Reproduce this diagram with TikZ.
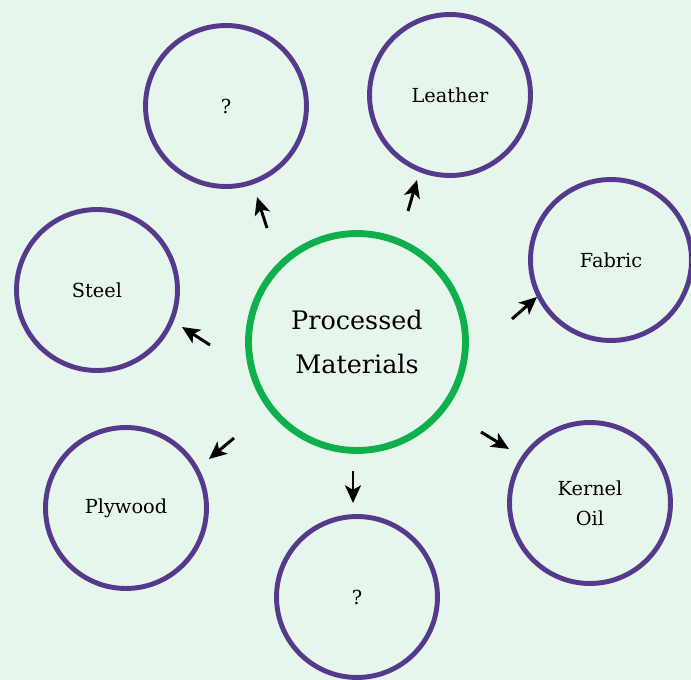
\documentclass[tikz,border=0pt]{standalone}
\usepackage{fontspec}
\setmainfont{DejaVu Serif}
\usetikzlibrary{arrows.meta}

\definecolor{bgmint}{RGB}{230,246,237}
\definecolor{hubgreen}{RGB}{13,176,75}
\definecolor{leafpurple}{RGB}{85,58,140}

\tikzset{
	hub/.style={circle, draw=hubgreen, line width=3.9pt, minimum size=4.34cm, align=center, font=\fontsize{14.5}{25}\selectfont},
	leaf/.style={circle, draw=leafpurple, line width=2.8pt, minimum size=3.22cm, align=center, font=\fontsize{11}{17}\selectfont},
	arr/.style={-{Stealth[length=10pt, width=9pt, inset=2.5pt]}, line width=1.7pt, black}
}

\begin{document}
\begin{tikzpicture}[x=0.02cm, y=-0.02cm]

		\fill[bgmint] (0,0) rectangle (691,680);
		\useasboundingbox (0,0) rectangle (691,680);

		\node[hub] (pm) at (357,342) {Processed\\Materials};

		\node[leaf] (q1) at (226,106) {?};
		\node[leaf] (leather) at (450,95) {Leather};
		\node[leaf] (fabric) at (611,260) {Fabric};
		\node[leaf] (steel) at (97,290) {Steel};
		\node[leaf] (plywood) at (126,508) {Plywood};
		\node[leaf] (q2) at (357,597) {?};
		\node[leaf] (kernel) at (590,503) {Kernel\\Oil};

		% arrow ends, they float between hub and leaves
		\coordinate (q1-s) at (267,228);
		\coordinate (q1-e) at (257,197);
		\coordinate (leather-s) at (408,211);
		\coordinate (leather-e) at (417,180);
		\coordinate (fabric-s) at (512,319);
		\coordinate (fabric-e) at (537,297);
		\coordinate (steel-s) at (210,345);
		\coordinate (steel-e) at (182,327);
		\coordinate (plywood-s) at (234,438);
		\coordinate (plywood-e) at (209,459);
		\coordinate (q2-s) at (353,471);
		\coordinate (q2-e) at (353,503);
		\coordinate (kernel-s) at (481,432);
		\coordinate (kernel-e) at (509,449);

		\foreach \n in {q1, leather, fabric, steel, plywood, q2, kernel}
			\draw[arr] (\n-s) -- (\n-e);

	\end{tikzpicture}
\end{document}
